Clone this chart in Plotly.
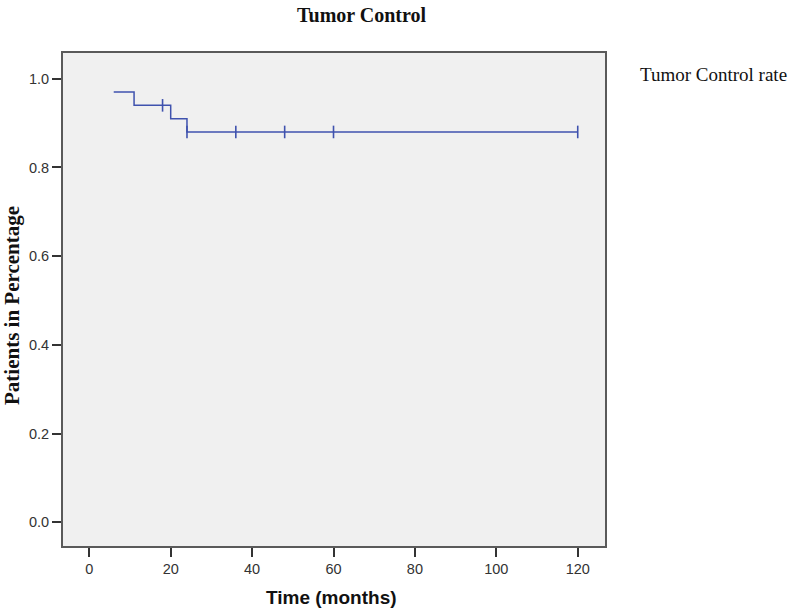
import plotly.graph_objects as go

# Kaplan-Meier step data
step_times = [6, 11, 20, 24, 120]
step_rates = [0.97, 0.94, 0.91, 0.88, 0.88]
censor_times = [18, 24, 36, 48, 60, 120]
censor_rates = [0.94, 0.88, 0.88, 0.88, 0.88, 0.88]
x_ticks = [0, 20, 40, 60, 80, 100, 120]
y_ticks = [0.0, 0.2, 0.4, 0.6, 0.8, 1.0]

line_color = "#3f52ae"

fig = go.Figure()
fig.add_trace(go.Scatter(
    x=step_times, y=step_rates, mode="lines", line_shape="hv",
    line=dict(color=line_color, width=1.5), name="Tumor Control rate",
    showlegend=False, hoverinfo="skip"))
fig.add_trace(go.Scatter(
    x=censor_times, y=censor_rates, mode="markers",
    marker=dict(symbol="line-ns-open", size=9, color=line_color,
                line=dict(color=line_color, width=1.6)),
    showlegend=False, hoverinfo="skip"))

axis_common = dict(showgrid=False, zeroline=False, showline=True, mirror=True,
                   linecolor="#5a5a5a", linewidth=2, ticks="outside", ticklen=9,
                   tickwidth=2, tickcolor="#333333",
                   tickfont=dict(family="Liberation Sans, Arial, sans-serif", size=14.5, color="#333333"))

fig.update_layout(
    width=800, height=613,
    margin=dict(l=63, r=195, t=53, b=67),
    paper_bgcolor="white", plot_bgcolor="#f0f0f0",
    xaxis=dict(range=[-6.46, 126.7], tickvals=x_ticks, **axis_common),
    yaxis=dict(range=[-0.0535, 1.058], tickvals=y_ticks, tickformat=".1f", **axis_common),
    annotations=[
        dict(text="<b>Tumor Control</b>", xref="paper", yref="paper", x=0.5517, y=1.0777,
             xanchor="center", yanchor="middle", showarrow=False,
             font=dict(family="Liberation Serif, Times New Roman, serif", size=20, color="#111111")),
        dict(text="Tumor Control rate", xref="paper", yref="paper", x=1.061, y=0.956,
             xanchor="left", yanchor="middle", showarrow=False,
             font=dict(family="Liberation Serif, Times New Roman, serif", size=19, color="#111111")),
        dict(text="<b>Patients in Percentage</b>", xref="paper", yref="paper", x=-0.094, y=0.487,
             xanchor="center", yanchor="middle", textangle=-90, showarrow=False,
             font=dict(family="Liberation Serif, Times New Roman, serif", size=21, color="#111111")),
        dict(text="<b>Time (months)</b>", xref="paper", yref="paper", x=0.496, y=-0.1035,
             xanchor="center", yanchor="middle", showarrow=False,
             font=dict(family="Liberation Sans, Arial, sans-serif", size=19, color="#111111")),
    ],
)

fig.write_html("out.html", config={"displayModeBar": False},
               post_script="document.body.style.margin='0px';")
